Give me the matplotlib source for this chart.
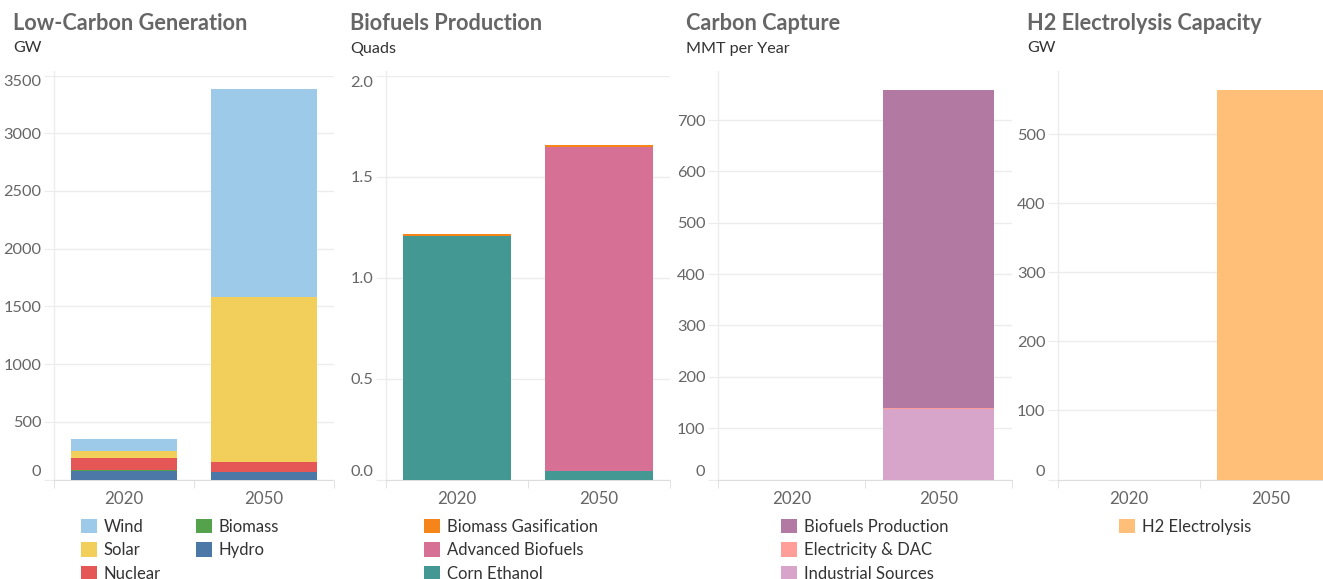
import numpy as np
import matplotlib
matplotlib.use("Agg")
import matplotlib.pyplot as plt

plt.rcParams["font.family"] = ["Lato", "DejaVu Sans"]

W, H = 1323, 579
years = ["2020", "2050"]

# Low-Carbon Generation (GW), stacked bottom -> top
gen_labels = ["Hydro", "Biomass", "Nuclear", "Solar", "Wind"]
gen_hydro = [77, 63]
gen_biomass = [9, 5]
gen_nuclear = [104, 87]
gen_solar = [58, 1430]
gen_wind = [104, 1797]
gen_colors = ["#4c78a8", "#54a24b", "#e45756", "#f2cf5b", "#9ecae9"]

# Biofuels Production (Quads)
bio_labels = ["Corn Ethanol", "Advanced Biofuels", "Biomass Gasification"]
bio_corn = [1.207, 0.044]
bio_advanced = [0.0, 1.602]
bio_gasification = [0.008, 0.010]
bio_colors = ["#439894", "#d67195", "#f58518"]

# Carbon Capture (MMT per Year)
cc_labels = ["Industrial Sources", "Electricity & DAC", "Biofuels Production"]
cc_industrial = [0, 137]
cc_dac = [0, 2]
cc_biofuels = [0, 620]
cc_colors = ["#d6a5c9", "#ff9d98", "#b279a2"]

# H2 Electrolysis Capacity (GW)
h2_labels = ["H2 Electrolysis"]
h2_electrolysis = [0, 564]
h2_colors = ["#ffbf79"]

panels = [
    dict(title="Low-Carbon Generation", unit="GW", series=[gen_hydro, gen_biomass, gen_nuclear, gen_solar, gen_wind],
         labels=gen_labels, colors=gen_colors, ticks=[0, 500, 1000, 1500, 2000, 2500, 3000, 3500], ylim=3500,
         fmt="{:.0f}", x=(54, 334), tx=13, leg=(81, 519), ncol=2),
    dict(title="Biofuels Production", unit="Quads", series=[bio_corn, bio_advanced, bio_gasification],
         labels=bio_labels, colors=bio_colors, ticks=[0, 0.5, 1.0, 1.5, 2.0], ylim=2.0,
         fmt="{:.1f}", x=(386, 670), tx=350, leg=(424, 519), ncol=1),
    dict(title="Carbon Capture", unit="MMT per Year", series=[cc_industrial, cc_dac, cc_biofuels],
         labels=cc_labels, colors=cc_colors, ticks=[0, 100, 200, 300, 400, 500, 600, 700], ylim=787,
         fmt="{:.0f}", x=(718, 1012), tx=686, leg=(781, 519), ncol=1),
    dict(title="H2 Electrolysis Capacity", unit="GW", series=[h2_electrolysis],
         labels=h2_labels, colors=h2_colors, ticks=[0, 100, 200, 300, 400, 500], ylim=585,
         fmt="{:.0f}", x=(1058, 1342), tx=1027, leg=(1119, 519), ncol=1),
]

fig = plt.figure(figsize=(W / 100, H / 100), dpi=100)
top, bottom = 75.5, 479.5
grid_c = "#ececec"

for p in panels:
    x0, x1 = p["x"]
    ax = fig.add_axes([x0 / W, 1 - bottom / H, (x1 - x0) / W, (bottom - top) / H])
    xs = np.arange(len(years))
    base = np.zeros(len(years))
    handles = []
    for vals, lab, col in zip(p["series"], p["labels"], p["colors"]):
        b = ax.bar(xs, vals, width=0.757, bottom=base, color=col, label=lab, zorder=3)
        base = base + np.array(vals)
        handles.append(b)
    ax.set_xlim(-0.5, 1.5)
    ax.set_ylim(0, p["ylim"])

    for s in ["top", "right", "left"]:
        ax.spines[s].set_visible(False)
    ax.spines["bottom"].set_color("#dddddd")
    ax.spines["bottom"].set_linestyle((0, (1, 1)))
    ax.plot([0, 0], [0, 1.012], transform=ax.transAxes, color=grid_c, lw=1, clip_on=False, zorder=1)

    ax.set_yticks(p["ticks"])
    ax.set_yticklabels([p["fmt"].format(t) for t in p["ticks"]])
    ax.yaxis.grid(True, color=grid_c, lw=1, zorder=0)
    ax.tick_params(axis="y", length=7, color=grid_c, pad=2, labelsize=11.8, labelcolor="#666666")
    for t, lbl in zip(p["ticks"], ax.get_yticklabels()):
        if t == 0:
            lbl.set_va("bottom")
        elif t == p["ylim"]:
            lbl.set_va("top")

    ax.set_xticks(xs)
    ax.set_xticklabels(years)
    ax.set_xticks([-0.5, 0.5, 1.5], minor=True)
    ax.tick_params(axis="x", which="major", length=0, pad=8.5, labelsize=12.2, labelcolor="#666666")
    ax.tick_params(axis="x", which="minor", length=6, color="#dddddd")

    fig.text(p["tx"] / W, 1 - 23 / H, p["title"], fontsize=15.7, fontweight="bold", color="#666666",
             ha="left", va="center")
    fig.text(p["tx"] / W, 1 - 48.5 / H, p["unit"], fontsize=11.6, color="#333333", ha="left", va="center")

    lx, ly = p["leg"]
    ax.legend(handles[::-1], p["labels"][::-1], loc="upper left", bbox_to_anchor=(lx / W, 1 - ly / H),
              bbox_transform=fig.transFigure, frameon=False, ncol=p["ncol"], fontsize=12,
              handlelength=0.95, handleheight=0.95, handletextpad=0.42, labelspacing=0.44,
              columnspacing=2.1, borderpad=0, borderaxespad=0, labelcolor="#333333")

fig.savefig("out.png", dpi=100)
